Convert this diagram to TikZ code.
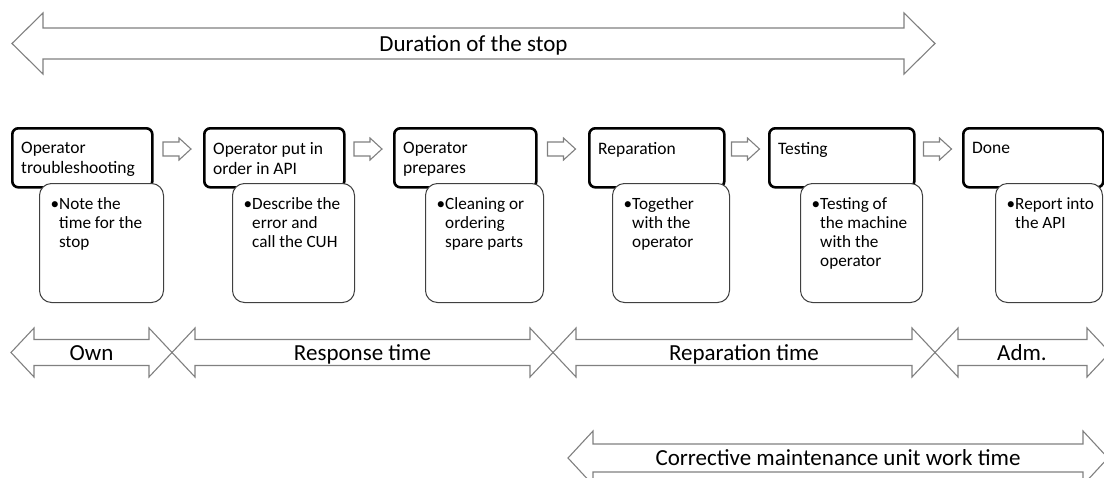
\documentclass[tikz,border=0pt]{standalone}
\usepackage{fontspec}
\setmainfont{Carlito}
\tikzset{
  hdrbox/.style={draw=black, line width=2.6pt, rounded corners=6pt, fill=white, inner sep=0pt, anchor=north west, minimum height=59pt},
  bodybox/.style={draw=black!75, line width=1pt, rounded corners=12pt, fill=white, inner sep=0pt, anchor=north west, minimum height=119pt},
  hdrtext/.style={anchor=north west, inner sep=0pt, align=left, font=\fontsize{17.5}{20}\selectfont},
  bodytext/.style={anchor=north west, inner sep=0pt, align=left, font=\fontsize{17.2}{19}\selectfont},
  blockarrow/.style={draw=black!50, line width=1.1pt, fill=white, line join=miter},
  spanlabel/.style={anchor=base, inner sep=0pt, font=\fontsize{23}{27}\selectfont},
}
% double-headed block arrow: left tip x, right tip x, centre y, half shaft, half head, head length
\newcommand\spanarrow[6]{%
  \draw[blockarrow] (#1,#3) -- ({#1+#6},{#3-#5}) -- ({#1+#6},{#3-#4}) -- ({#2-#6},{#3-#4})
    -- ({#2-#6},{#3-#5}) -- (#2,#3) -- ({#2-#6},{#3+#5}) -- ({#2-#6},{#3+#4})
    -- ({#1+#6},{#3+#4}) -- ({#1+#6},{#3+#5}) -- cycle;}
% small right-pointing block arrow between two steps: centre x, centre y
\newcommand\steparrow[2]{%
  \draw[blockarrow] ({#1-14},{#2-7}) -- ({#1+2},{#2-7}) -- ({#1+2},{#2-11}) -- ({#1+14},#2)
    -- ({#1+2},{#2+11}) -- ({#1+2},{#2+7}) -- ({#1-14},{#2+7}) -- cycle;}
\begin{document}
\begin{tikzpicture}[x=1pt,y=-1pt]
  \useasboundingbox (0,0) rectangle (1104,477);
  \clip (0,0) rectangle (1104,477);

  % overall duration
  \spanarrow{12}{935}{43.5}{15.5}{30.5}{31}
  \node[spanlabel] (dur) at (473.5,51.5) {Duration of the stop};

  % step headers
  \node[hdrbox, minimum width=140pt] (h1) at (11,127) {};
  \node[hdrbox, minimum width=140pt] (h2) at (203,127) {};
  \node[hdrbox, minimum width=142pt] (h3) at (393,127) {};
  \node[hdrbox, minimum width=135pt] (h4) at (588,127) {};
  \node[hdrbox, minimum width=145pt] (h5) at (768,127) {};
  \node[hdrbox, minimum width=140pt] (h6) at (962,127) {};

  \node[hdrtext] (h1t) at ([xshift=10pt,yshift=-15pt]h1.north west) {Operator\\troubleshooting};
  \node[hdrtext] (h2t) at ([xshift=10pt,yshift=-15pt]h2.north west) {Operator put in\\order in API};
  \node[hdrtext] (h3t) at ([xshift=10pt,yshift=-15pt]h3.north west) {Operator\\prepares};
  \node[hdrtext] (h4t) at ([xshift=10pt,yshift=-15pt]h4.north west) {Reparation};
  \node[hdrtext] (h5t) at ([xshift=10pt,yshift=-15pt]h5.north west) {Testing};
  \node[hdrtext] (h6t) at ([xshift=10pt,yshift=-15pt]h6.north west) {Done};

  % arrows between steps
  \steparrow{177}{149}
  \steparrow{368}{149}
  \steparrow{561.5}{149}
  \steparrow{745.5}{149}
  \steparrow{937.5}{149}

  % step details
  \node[bodybox, minimum width=124pt] (b1) at (39,183) {};
  \node[bodybox, minimum width=122pt] (b2) at (232,183) {};
  \node[bodybox, minimum width=118pt] (b3) at (425,183) {};
  \node[bodybox, minimum width=117pt] (b4) at (612,183) {};
  \node[bodybox, minimum width=122pt] (b5) at (800,183) {};
  \node[bodybox, minimum width=107pt] (b6) at (995,183) {};

  \node[bodytext] (b1t) at ([xshift=20pt,yshift=-14.5pt]b1.north west) {\llap{•}Note the\\time for the\\stop};
  \node[bodytext] (b2t) at ([xshift=20pt,yshift=-14.5pt]b2.north west) {\llap{•}Describe the\\error and\\call the CUH};
  \node[bodytext] (b3t) at ([xshift=20pt,yshift=-14.5pt]b3.north west) {\llap{•}Cleaning or\\ordering\\spare parts};
  \node[bodytext] (b4t) at ([xshift=20pt,yshift=-14.5pt]b4.north west) {\llap{•}Together\\with the\\operator};
  \node[bodytext] (b5t) at ([xshift=20pt,yshift=-14.5pt]b5.north west) {\llap{•}Testing of\\the machine\\with the\\operator};
  \node[bodytext] (b6t) at ([xshift=20pt,yshift=-14.5pt]b6.north west) {\llap{•}Report into\\the API};

  % time split
  \spanarrow{11}{172}{352.5}{13}{24.5}{23}
  \spanarrow{172}{553}{352.5}{13}{24.5}{23}
  \spanarrow{553}{935}{352.5}{13}{24.5}{23}
  \spanarrow{935}{1110}{352.5}{13}{24.5}{23}
  \node[spanlabel] (own) at (91.5,360) {Own};
  \node[spanlabel] (resp) at (362.5,360) {Response time};
  \node[spanlabel] (rep) at (744,360) {Reparation time};
  \node[spanlabel] (adm) at (1022,360) {Adm.};

  % maintenance unit share
  \spanarrow{568}{1108}{458}{14}{27}{25}
  \node[spanlabel] (cmu) at (838,465.5) {Corrective maintenance unit work time};
\end{tikzpicture}
\end{document}
